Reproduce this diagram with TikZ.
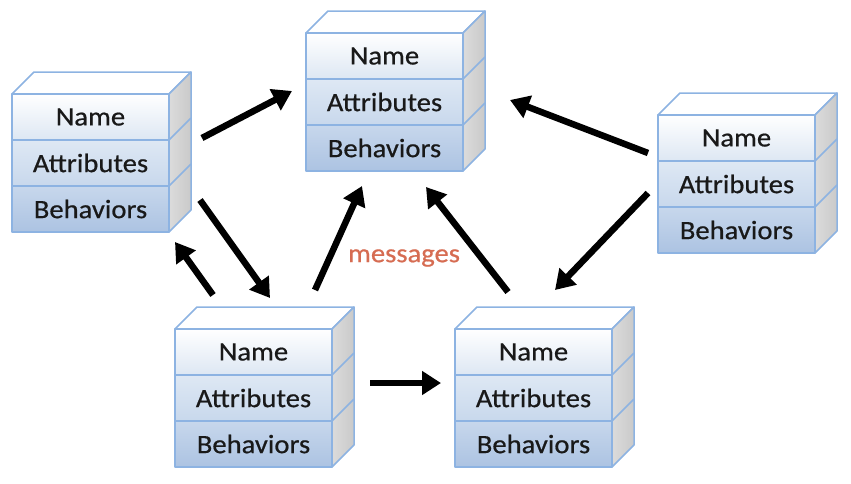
\documentclass[tikz,border=0pt]{standalone}
\usepackage{fontspec}
\usepackage{tikz}
\usetikzlibrary{arrows.meta}
\newfontfamily\boxfont[FakeStretch=1.08,FakeBold=0.6]{Carlito}

\definecolor{boxblue}{RGB}{141,179,226}
\definecolor{namebot}{RGB}{221,231,243}
\definecolor{attrtop}{RGB}{222,232,244}
\definecolor{attrbot}{RGB}{200,216,236}
\definecolor{behtop}{RGB}{199,215,236}
\definecolor{behbot}{RGB}{172,195,226}
\definecolor{msgred}{RGB}{214,108,82}

\tikzset{
  boxline/.style={draw=boxblue, line width=1.5pt, line join=round},
  row/.style={boxline, minimum width=157pt, minimum height=46pt, inner sep=0pt,
    font=\boxfont\fontsize{26.5}{30}\selectfont, text=black!90},
  namerow/.style={row, top color=white, bottom color=namebot},
  attrrow/.style={row, top color=attrtop, bottom color=attrbot},
  behrow/.style={row, top color=behtop, bottom color=behbot},
  sideface/.style={boxline, left color=gray!28, right color=gray!42},
  msg/.style={line width=6.5pt, -{Triangle[length=19pt,width=23pt]}}
}

% one object: top face, side face and the three rows
\newcommand{\objbox}[3]{%
  \begin{scope}[shift={(#2,#3)}]
    \draw[boxline, fill=white] (0,0) -- (22,-22) -- (179,-22) -- (157,0) -- cycle;
    \draw[sideface] (157,0) -- (179,-22) -- (179,116) -- (157,138) -- cycle;
    \draw[boxline] (157,46) -- (179,24) (157,92) -- (179,70);
    \node[namerow] (#1-name) at (78.5,23) {Name};
    \node[attrrow] (#1-attr) at (78.5,69) {Attributes};
    \node[behrow] (#1-beh) at (78.5,115) {Behaviors};
  \end{scope}}

\begin{document}
\begin{tikzpicture}[x=1pt,y=-1pt]
  \useasboundingbox (0,0) rectangle (851,483);

  % the five objects
  \objbox{left}{12}{94}
  \objbox{top}{306}{33}
  \objbox{right}{658}{115}
  \objbox{botl}{175}{329}
  \objbox{botr}{455}{329}

  % arrow ends
  \coordinate (lt-from) at (202,138);
  \coordinate (lt-to) at (292,91);
  \coordinate (rt-from) at (648,153);
  \coordinate (rt-to) at (510,100);
  \coordinate (rb-from) at (648,193);
  \coordinate (rb-to) at (555,290);
  \coordinate (lb-from) at (200,200);
  \coordinate (lb-to) at (270,298);
  \coordinate (bl-from) at (213,295);
  \coordinate (bl-to) at (175,242);
  \coordinate (bt-from) at (315,290);
  \coordinate (bt-to) at (362,186);
  \coordinate (brt-from) at (508,292);
  \coordinate (brt-to) at (426,187);
  \coordinate (bb-from) at (370,383);
  \coordinate (bb-to) at (441,383);

  % messages
  \draw[msg] (lt-from) -- (lt-to);
  \draw[msg] (rt-from) -- (rt-to);
  \draw[msg] (rb-from) -- (rb-to);
  \draw[msg] (lb-from) -- (lb-to);
  \draw[msg] (bl-from) -- (bl-to);
  \draw[msg] (bt-from) -- (bt-to);
  \draw[msg] (brt-from) -- (brt-to);
  \draw[msg] (bb-from) -- (bb-to);

  \node[font=\boxfont\fontsize{26.5}{30}\selectfont, text=msgred] (msglabel) at (404,258) {messages};
\end{tikzpicture}
\end{document}
